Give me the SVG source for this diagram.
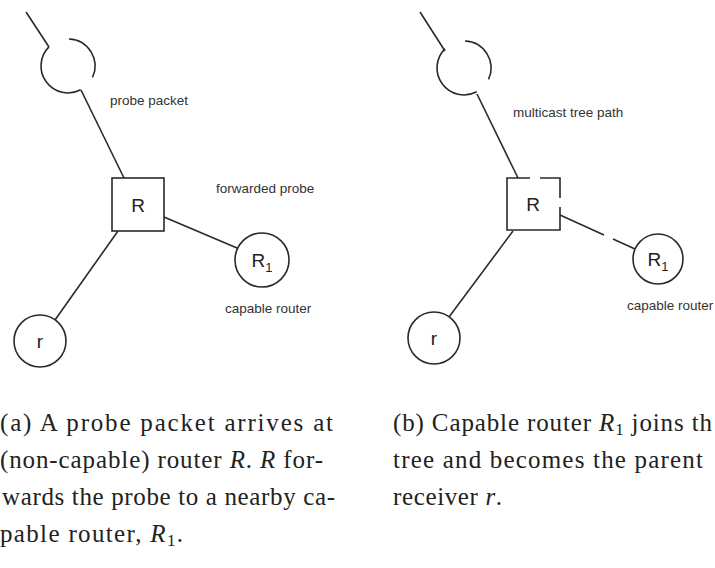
<svg xmlns="http://www.w3.org/2000/svg" width="715" height="568" viewBox="0 0 715 568">
<style>
.ln{fill:none;stroke:#2a2a2a;stroke-width:1.6;stroke-linecap:butt}
.nd{fill:none;stroke:#2a2a2a;stroke-width:1.6}
.nl{font-family:"Liberation Sans",Arial,sans-serif;font-size:19px;fill:#222;text-anchor:middle}
.sub{font-size:13px}
.el{font-family:"Liberation Sans",Arial,sans-serif;font-size:13.5px;fill:#333}
.cap{font-family:"Liberation Serif","Times New Roman",serif;font-size:25px;fill:#222}
.it{font-style:italic}
.cs{font-size:17px}
</style>
<rect width="715" height="568" fill="#fff"/>
<g id="connectors">
<path class="ln" d="M26,12 L49,47"/>
<path class="ln" d="M81,90 L124,178"/>
<path class="ln" d="M164,217 L237,248"/>
<path class="ln" d="M118,231 L55,320"/>
<path class="ln" d="M420,12 L445,51"/>
<path class="ln" d="M477,94 L518,178"/>
<path class="ln" d="M560,215 L604,235"/>
<path class="ln" d="M613,239 L635,249"/>
<path class="ln" d="M513,231 L449,317"/>
</g>
<g id="a-top">
<path class="nd" d="M69,39 A27,27 0 0 1 92.5,77.4 M80.7,89.8 A27,27 0 0 1 48.9,46.9"/>
</g>
<g id="a-R">
<rect class="nd" x="112" y="178" width="52" height="53"/>
<text class="nl" x="138" y="212">R</text>
</g>
<g id="a-R1">
<circle class="nd" cx="262" cy="260" r="27"/>
<text class="nl" x="262" y="267">R<tspan class="sub" dy="5">1</tspan></text>
</g>
<g id="a-r">
<circle class="nd" cx="40" cy="341" r="26"/>
<text class="nl" x="40" y="348">r</text>
</g>
<g id="a-labels">
<text class="el" x="110" y="105">probe packet</text>
<text class="el" x="216" y="193">forwarded probe</text>
<text class="el" x="225" y="313">capable router</text>
</g>
<g id="b-top">
<path class="nd" d="M465,41 A27,27 0 0 1 488.5,79.4 M476.7,91.8 A27,27 0 0 1 444.9,48.9"/>
</g>
<g id="b-R">
<path class="nd" d="M530,178 H507 V230 H560 V207 M560,198 V178 H540"/>
<text class="nl" x="533" y="211">R</text>
</g>
<g id="b-R1">
<circle class="nd" cx="658" cy="259" r="25"/>
<text class="nl" x="658" y="266">R<tspan class="sub" dy="5">1</tspan></text>
</g>
<g id="b-r">
<circle class="nd" cx="434" cy="338" r="26"/>
<text class="nl" x="434" y="345">r</text>
</g>
<g id="b-labels">
<text class="el" x="513" y="117">multicast tree path</text>
<text class="el" x="627" y="310">capable router</text>
</g>
<g id="caption-a">
<text class="cap" x="0" y="431" textLength="333" lengthAdjust="spacing">(a) A probe packet arrives at</text>
<text class="cap" x="0" y="468" textLength="323" lengthAdjust="spacing">(non-capable) router <tspan class="it">R</tspan>. <tspan class="it">R</tspan> for-</text>
<text class="cap" x="2" y="505" textLength="333" lengthAdjust="spacing">wards the probe to a nearby ca-</text>
<text class="cap" x="0" y="542" textLength="183" lengthAdjust="spacing">pable router, <tspan class="it">R</tspan><tspan class="cs" dy="4">1</tspan><tspan dy="-4">.</tspan></text>
</g>
<g id="caption-b">
<text class="cap" x="393" y="431" textLength="319" lengthAdjust="spacing">(b) Capable router <tspan class="it">R</tspan><tspan class="cs" dy="4">1</tspan><tspan dy="-4"> joins th</tspan></text>
<text class="cap" x="393" y="468" textLength="310" lengthAdjust="spacing">tree and becomes the parent</text>
<text class="cap" x="393" y="505" textLength="109" lengthAdjust="spacing">receiver <tspan class="it">r</tspan>.</text>
</g>
</svg>
